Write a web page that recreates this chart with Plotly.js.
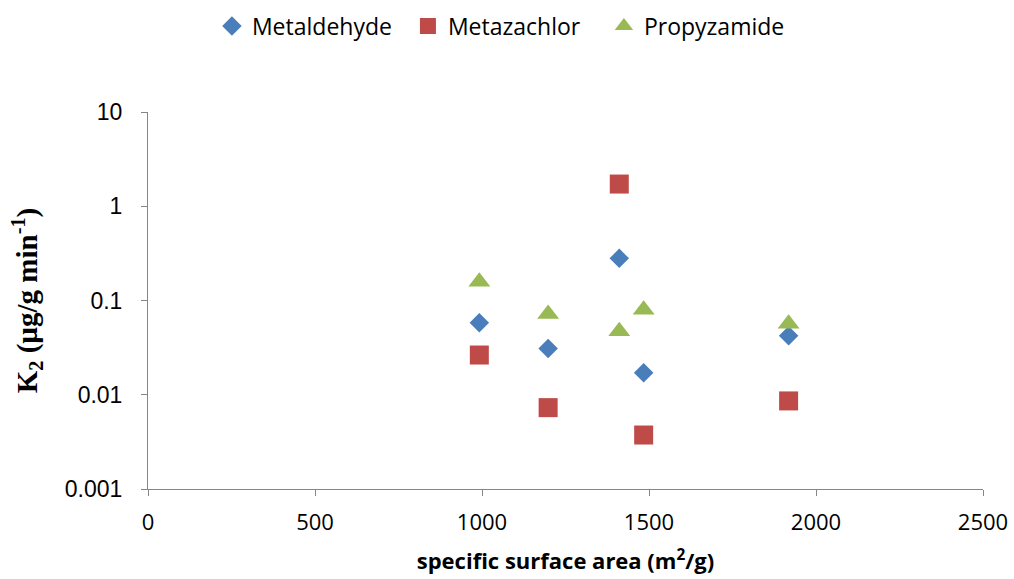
<!DOCTYPE html>
<html>
<head>
<meta charset="utf-8">
<script src="https://cdn.plot.ly/plotly-3.0.1.min.js"></script>
<style>
  html, body { margin: 0; padding: 0; background: #fff; }
  #chart { width: 1014px; height: 579px; }
</style>
</head>
<body>
<div id="chart"></div>
<script>
// Specific surface area of each adsorbent (m2/g)
const surfaceArea = [992, 1198, 1411, 1484, 1918];

// Pseudo-second-order rate constants K2 (µg/g min-1)
const metaldehyde = [0.058, 0.031, 0.28, 0.0171, 0.0423];
const metazachlor = [0.0264, 0.0073, 1.72, 0.00374, 0.0086];
const propyzamide = [0.158, 0.0719, 0.0471, 0.0799, 0.0566];

const yTickVals = [0.001, 0.01, 0.1, 1, 10];
const yTickText = ["0.001", "0.01", "0.1", "1", "10"];
const xTickVals = [0, 500, 1000, 1500, 2000, 2500];

const traces = [
  { name: "Metaldehyde", y: metaldehyde, color: "#4a7ebb", symbol: "diamond", size: 15 },
  { name: "Metazachlor", y: metazachlor, color: "#be4b48", symbol: "square", size: 19 },
  { name: "Propyzamide", y: propyzamide, color: "#98b954", symbol: "triangle-up", size: 19 }
].map(s => ({
  type: "scatter",
  mode: "markers",
  name: s.name,
  x: surfaceArea,
  y: s.y,
  marker: { color: s.color, symbol: s.symbol, size: s.size, line: { width: 0 } }
}));

const axisLine = "#868686";
const sans = "Open Sans, Liberation Sans, sans-serif";

const layout = {
  width: 1014,
  height: 579,
  paper_bgcolor: "#ffffff",
  plot_bgcolor: "#ffffff",
  margin: { l: 148, r: 31, t: 112, b: 90 },
  showlegend: true,
  legend: {
    orientation: "h",
    xref: "container", yref: "container",
    x: 0.209, xanchor: "left",
    y: 0.992, yanchor: "top",
    entrywidth: 151, entrywidthmode: "pixels",
    font: { family: sans, size: 23, color: "#000" },
    itemsizing: "trace"
  },
  xaxis: {
    range: [0, 2500],
    tickvals: xTickVals,
    ticks: "outside", ticklen: 6, tickcolor: axisLine,
    ticklabelstandoff: 8,
    showline: true, linecolor: axisLine, linewidth: 1,
    showgrid: false, zeroline: false,
    tickfont: { family: sans, size: 22, color: "#000" },
    title: {
      text: "<b>specific surface area (m<sup>2</sup>/g)</b>",
      font: { family: sans, size: 22, color: "#000" },
      standoff: 18
    }
  },
  yaxis: {
    type: "log",
    range: [-3, 1],
    tickvals: yTickVals, ticktext: yTickText,
    ticks: "outside", ticklen: 6, tickcolor: axisLine,
    ticklabelstandoff: 14,
    showline: true, linecolor: axisLine, linewidth: 1,
    showgrid: false, zeroline: false,
    tickfont: { family: "Liberation Sans, Arial, sans-serif", size: 23, color: "#000" },
    title: {
      text: "<b>K<sub>2</sub> (µg/g min<sup>-1</sup>)</b>",
      font: { family: "Liberation Serif, Times New Roman, serif", size: 29, color: "#000" },
      standoff: 18
    }
  }
};

Plotly.newPlot("chart", traces, layout, { displayModeBar: false, staticPlot: true });
</script>
</body>
</html>
